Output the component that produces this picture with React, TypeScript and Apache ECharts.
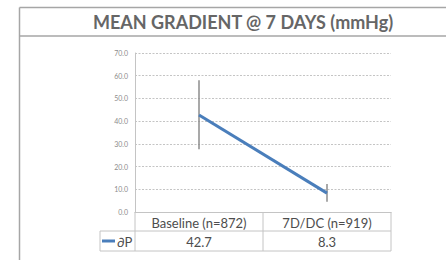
import React, { useEffect, useRef } from "react";
import * as echarts from "echarts";

const categories = ["Baseline (n=872)", "7D/DC (n=919)"];
const meanValues = [42.7, 8.3];
const errLow = [27.6, 4.5];
const errHigh = [58.0, 12.3];
const seriesName = "∂P";
const yTicks = { min: 0, max: 70, interval: 10 };

const LINE_COLOR = "#4a7ebb";
const GRID_COLOR = "#c4c4c4";
const TEXT_COLOR = "#4d4d4d";
const FONT = "Lato, 'Open Sans', sans-serif";

export default function App() {
  const ref = useRef<HTMLDivElement>(null);
  useEffect(() => {
    if (!ref.current) return;
    const chart = echarts.init(ref.current, null, { renderer: "svg" });
    chart.setOption({
      animation: false,
      backgroundColor: "#ffffff",
      grid: { left: 135, right: 55, top: 53, bottom: 48, containLabel: false },
      xAxis: {
        type: "category",
        data: categories,
        boundaryGap: true,
        axisLine: { show: true, lineStyle: { color: GRID_COLOR, width: 1 } },
        axisTick: { show: false },
        axisLabel: { show: false },
        splitLine: { show: false },
      },
      yAxis: {
        type: "value",
        min: yTicks.min,
        max: yTicks.max,
        interval: yTicks.interval,
        axisLine: { show: true, lineStyle: { color: GRID_COLOR, width: 1 } },
        axisTick: { show: false },
        axisLabel: {
          formatter: (v: number) => v.toFixed(1),
          fontSize: 7,
          color: "#8c8c8c",
          fontFamily: FONT,
          margin: 7,
        },
        splitLine: { show: true, lineStyle: { color: GRID_COLOR, type: [2, 1.5], width: 1 } },
      },
      series: [
        {
          type: "custom",
          name: "err",
          data: categories.map((_, i) => [i, errLow[i], errHigh[i]]),
          renderItem: (params: any, api: any) => {
            const i = api.value(0);
            const p1 = api.coord([i, api.value(1)]);
            const p2 = api.coord([i, api.value(2)]);
            return {
              type: "line",
              shape: { x1: p1[0], y1: p1[1], x2: p2[0], y2: p2[1] },
              style: { stroke: "#8c8c8c", lineWidth: 1.5 },
            };
          },
          z: 1,
        },
        {
          type: "line",
          name: seriesName,
          data: meanValues,
          symbol: "none",
          lineStyle: { color: LINE_COLOR, width: 3 },
          z: 3,
        },
      ],
    });

    const c0 = chart.convertToPixel({ xAxisIndex: 0 }, categories[0]) as number;
    const c1 = chart.convertToPixel({ xAxisIndex: 0 }, categories[1]) as number;
    const half = (c1 - c0) / 2;
    const left = c0 - half;
    const right = c1 + half;
    const mid = c0 + half;
    const yTop = chart.convertToPixel({ yAxisIndex: 0 }, 0) as number;
    const yRow = yTop + 19;
    const yBot = yTop + 39;
    const legendLeft = 100;
    const tline = (x1: number, y1: number, x2: number, y2: number) => ({
      type: "line",
      shape: { x1, y1, x2, y2 },
      style: { stroke: GRID_COLOR, lineWidth: 1 },
      silent: true,
    });
    const frame = (x1: number, y1: number, x2: number, y2: number) => ({
      type: "line",
      shape: { x1, y1, x2, y2 },
      style: { stroke: "#a6a6a6", lineWidth: 1.5 },
      silent: true,
    });
    const centers = [c0, c1];
    chart.setOption({
      graphic: [
        frame(19.5, 7.5, 446, 7.5),
        frame(19.5, 7.5, 19.5, 260),
        frame(19.5, 36, 446, 36),
        {
          type: "text",
          x: 243,
          y: 22,
          style: {
            text: "MEAN GRADIENT @ 7 DAYS (mmHg)",
            fill: "#666666",
            font: `bold 18px ${FONT}`,
            align: "center",
            verticalAlign: "middle",
          },
        },
        tline(left, yTop, left, yBot),
        tline(mid, yTop, mid, yBot),
        tline(right, yTop, right, yBot),
        tline(legendLeft, yRow, right, yRow),
        tline(legendLeft, yBot, right, yBot),
        tline(legendLeft, yRow, legendLeft, yBot),
        ...categories.map((c, i) => ({
          type: "text",
          x: centers[i],
          y: (yTop + yRow) / 2 + 1,
          style: {
            text: c,
            fill: TEXT_COLOR,
            font: `13px ${FONT}`,
            align: "center",
            verticalAlign: "middle",
          },
        })),
        ...meanValues.map((v, i) => ({
          type: "text",
          x: centers[i],
          y: (yRow + yBot) / 2 + 1,
          style: {
            text: v.toFixed(1),
            fill: TEXT_COLOR,
            font: `13px ${FONT}`,
            align: "center",
            verticalAlign: "middle",
          },
        })),
        {
          type: "line",
          shape: { x1: 102, y1: (yRow + yBot) / 2, x2: 115, y2: (yRow + yBot) / 2 },
          style: { stroke: LINE_COLOR, lineWidth: 3 },
        },
        {
          type: "text",
          x: 117,
          y: (yRow + yBot) / 2 + 1,
          style: {
            text: seriesName,
            fill: TEXT_COLOR,
            font: `13px ${FONT}`,
            align: "left",
            verticalAlign: "middle",
          },
        },
      ],
    });
    return () => chart.dispose();
  }, []);
  return <div ref={ref} style={{ width: 446, height: 260, position: "fixed", left: 0, top: 0 }} />;
}
